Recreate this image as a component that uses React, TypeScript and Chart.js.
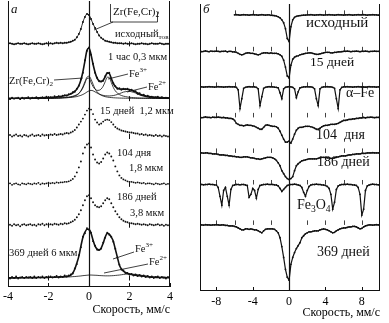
import { useEffect, useRef } from "react";
import { Chart, registerables } from "chart.js";
Chart.register(...registerables);

const FONT = "'Liberation Serif', 'Times New Roman', serif";
const INK = "#111";

// ---------- Panel а : velocity grid -4 … 4 mm/s, step 0.1 ----------
const leftStart = -4;
const leftStep = 0.1;
const leftTickValues = [-4, -2, 0, 2, 4];
const leftSpectrumTicks = [-2, 2];
const leftBaselines = [244, 189, 151, 103, 62, 9];

// groups: -4.0..-3.1 | -3.0..-2.1 | -2.0..-1.1 | -1.0..-0.1 | 0 | 0.1..1.0 | 1.1..2.0 | 2.1..3.0 | 3.1..4.0
const leftInitial = [
  0, 0.5, 0, -0.5, 0, 0.5, 0, 0, 0.5, 0,
  -0.5, 0, 0.5, 0, 0, 0.5, 0, -0.5, 0, 0.5,
  0, 0.5, 0, 0.5, 1, 0.5, 1, 0.5, 1, 1,
  1.5, 2, 3, 4, 6.5, 10, 15, 22, 27, 30,
  29,
  25, 20, 16, 12, 8.5, 6, 4.5, 3.2, 2.5, 2,
  1.5, 1, 1, 0.5, 0.5, 0.5, 0, 0.5, 0, 0,
  0.5, 0, -0.5, 0, 0, 0.5, 0, 0, -0.5, 0,
  0.5, 0, 0, 0, 0.5, 0, -0.5, 0, 0, 0,
];
const leftHourExp = [
  0.5, -0.5, 1, 0, 0.5, 1, -0.5, 1, 0, 0.5,
  1.5, 0, 1, 0.5, 1.5, 0, 1, 1.5, 0.5, 2,
  1, 1.5, 1, 2.5, 1.5, 2.5, 2, 3, 3.5, 3,
  4.5, 5, 6.5, 7, 10, 13, 19.5, 26, 38.5, 48,
  51.5,
  44, 35, 26, 21, 17.5, 17.5, 18, 22.5, 25.5, 26,
  20, 15.5, 12.5, 10, 10.5, 9, 10, 9.5, 10, 8.5,
  9, 7.5, 7.5, 5, 5.5, 3.5, 4, 2.5, 3, 1.5,
  2, 1, 1.5, 2, 0.5, 1.5, 0.5, 1, 0.5, 1,
];
const leftHourFit = [
  0.35, 0.35, 0.37, 0.39, 0.41, 0.43, 0.44, 0.5, 0.53, 0.56,
  0.57, 0.6, 0.64, 0.73, 0.77, 0.81, 0.85, 0.95, 1, 1.1,
  1.1, 1.2, 1.4, 1.5, 1.7, 2, 2.2, 2.6, 3, 3.4,
  3.9, 4.8, 5.9, 7.5, 9.6, 13.2, 18.8, 27, 37.9, 48.5,
  50.9,
  44.2, 34.5, 26.3, 20.7, 17.8, 17, 18.4, 21.9, 25.9, 25.3,
  20.3, 15.3, 12.2, 10.5, 9.7, 9.6, 9.6, 9.6, 9.4, 9.1,
  8.5, 7.8, 6.8, 5.7, 4.7, 3.9, 3.3, 2.7, 2.3, 2,
  1.7, 1.5, 1.35, 1.2, 1.1, 1, 0.92, 0.84, 0.77, 0.7,
];
const leftHourZr = [
  0.1, 0.1, 0.1, 0.1, 0.1, 0.1, 0.1, 0.15, 0.15, 0.15,
  0.15, 0.15, 0.15, 0.2, 0.2, 0.2, 0.2, 0.25, 0.25, 0.3,
  0.3, 0.35, 0.4, 0.45, 0.5, 0.6, 0.65, 0.75, 0.9, 1,
  1.2, 1.5, 2, 2.6, 3.6, 5.2, 8, 12, 17, 21.5,
  22.5,
  19.5, 14.5, 10, 6.8, 4.8, 3.5, 2.6, 2, 1.6, 1.3,
  1.1, 0.9, 0.8, 0.7, 0.6, 0.55, 0.5, 0.45, 0.42, 0.4,
  0.37, 0.35, 0.33, 0.3, 0.3, 0.28, 0.26, 0.25, 0.23, 0.2,
  0.2, 0.2, 0.18, 0.17, 0.16, 0.15, 0.14, 0.13, 0.12, 0.12,
];
const leftHourFe3 = [
  0.15, 0.15, 0.16, 0.17, 0.18, 0.19, 0.2, 0.21, 0.22, 0.24,
  0.25, 0.27, 0.29, 0.31, 0.33, 0.35, 0.37, 0.4, 0.43, 0.45,
  0.47, 0.5, 0.55, 0.62, 0.7, 0.8, 0.9, 1.1, 1.2, 1.4,
  1.6, 2, 2.4, 3.1, 3.9, 5.3, 7.5, 10.8, 15.6, 20.3,
  20.6,
  16.4, 12.1, 9.5, 8.3, 8.4, 9.7, 12.5, 17, 21.5, 21.3,
  16.3, 11.3, 7.8, 5.6, 4.1, 3.2, 2.5, 2.1, 1.7, 1.4,
  1.2, 1, 0.9, 0.8, 0.7, 0.65, 0.6, 0.55, 0.5, 0.45,
  0.42, 0.4, 0.37, 0.34, 0.32, 0.3, 0.28, 0.26, 0.25, 0.23,
];
const leftHourFe2 = [
  0.1, 0.1, 0.11, 0.12, 0.13, 0.14, 0.14, 0.15, 0.16, 0.17,
  0.17, 0.19, 0.2, 0.22, 0.24, 0.26, 0.28, 0.3, 0.32, 0.34,
  0.35, 0.38, 0.42, 0.46, 0.51, 0.56, 0.64, 0.75, 0.86, 0.96,
  1.06, 1.25, 1.46, 1.75, 2.1, 2.7, 3.3, 4.2, 5.3, 6.7,
  7.8,
  8.3, 7.9, 6.8, 5.6, 4.6, 3.8, 3.3, 2.9, 2.8, 2.7,
  2.9, 3.1, 3.6, 4.2, 5, 5.8, 6.6, 7, 7.3, 7.3,
  6.9, 6.4, 5.6, 4.6, 3.7, 3, 2.4, 1.9, 1.55, 1.3,
  1.1, 0.9, 0.8, 0.7, 0.6, 0.55, 0.5, 0.45, 0.4, 0.35,
];
const leftDay15 = [
  0.5, 1.5, 0, 1, 2, 0.5, 1, 0, 1.5, 1,
  0, 1, 2, 0.5, 1, 1.5, 0.5, 2, 1, 1.5,
  1, 2, 1.5, 2.5, 1.5, 2, 2.5, 2, 3, 3.5,
  3, 4, 5, 6.5, 9, 12, 15, 18, 22, 26,
  28,
  27, 22.5, 17, 14, 12, 13, 15, 16.5, 17, 16.5,
  14.5, 12, 9.5, 8, 7, 6, 5.5, 5, 4.5, 4,
  4, 3.5, 3, 3, 2, 2.5, 1.5, 2, 1, 1.5,
  1, 0.5, 1.5, 0.5, 1, 0, 1, 0.5, 0, 0.5,
];
const leftDay104 = [
  0, 1, -0.5, 0.5, 1, 0, -0.5, 1, 0.5, 0,
  1, 0.5, 0, 1, 0.5, 1.5, 0, 1, 0.5, 1,
  1.5, 1, 1.5, 1, 2, 1.5, 2, 2, 2.5, 2.5,
  3, 4, 5.5, 8, 12, 17, 23, 31, 37, 40,
  41,
  37, 30, 25, 22, 21, 22.5, 26, 30, 32, 31,
  28, 24, 18, 13, 9, 6.5, 5, 4, 3, 2.5,
  2.5, 2, 1.5, 2, 1.5, 1, 1.5, 0.5, 1, 1,
  0.5, 0, 1, 0.5, 0, 0.5, 1, 0, 0.5, 0,
];
const leftDay186 = [
  0, 0.5, -0.5, 1, 0, 0.5, -1, 0.5, 1, 0,
  0.5, 1, 0, 0.5, -0.5, 1, 0.5, 1.5, 0, 1,
  0.5, 1, 0.5, 1.5, 1, 0.5, 1.5, 1, 2, 1.5,
  2, 3, 4, 5.5, 8, 11, 15, 20, 25, 29,
  30,
  27, 23, 20, 18.5, 18, 19, 22, 25, 27, 26,
  22, 18, 14, 11, 8, 6, 4.5, 3.5, 3, 2,
  2, 1.5, 1, 1.5, 1, 0.5, 1, 0.5, 0, 1,
  0.5, 0, 0.5, 1, 0, 0.5, -0.5, 0.5, 0, 0.5,
];
const leftDay369Exp = [
  0.5, -0.5, 1, 0, 1.5, -0.5, 0.5, 1, 0, 1,
  0.5, 1, 0, 1.5, 0, 1, 0.5, 1.5, 0, 1,
  0.5, 1.5, 0.5, 1, 2, 0.5, 1.5, 1, 2.5, 1.5,
  2.5, 3.5, 4.5, 9.5, 14, 23, 31, 41.5, 45, 50,
  48.5,
  45.5, 37, 32.5, 28.5, 28.5, 29.5, 35.5, 40.5, 45.5, 43.5,
  41.5, 36.5, 29.5, 20.5, 13.5, 8.5, 7.5, 5, 5, 3.5,
  4, 2.5, 3.5, 2, 3, 1.5, 2.5, 1, 2, 0.5,
  1.5, 0, 1, 1.5, 0, 1, 0.5, -0.5, 1, 0,
];
const leftDay369Fit = [
  0.2, 0.2, 0.2, 0.2, 0.2, 0.3, 0.3, 0.3, 0.3, 0.3,
  0.4, 0.4, 0.4, 0.4, 0.5, 0.5, 0.5, 0.6, 0.6, 0.7,
  0.7, 0.8, 0.8, 0.9, 1, 1.1, 1.2, 1.3, 1.5, 1.7,
  2, 3, 5, 9, 15, 22, 32, 41, 46, 49,
  49,
  45, 38, 32, 29, 28, 30, 35, 41, 45, 44,
  41, 37, 29, 21, 13, 9, 7, 5.5, 4.5, 4,
  3.5, 3, 2.8, 2.5, 2.3, 2, 1.8, 1.5, 1.3, 1,
  0.9, 0.8, 0.7, 0.6, 0.5, 0.5, 0.4, 0.4, 0.3, 0.3,
];
const leftDay369Fe2 = [
  0.2, 0.2, 0.2, 0.2, 0.2, 0.2, 0.2, 0.2, 0.3, 0.3,
  0.3, 0.3, 0.3, 0.3, 0.4, 0.4, 0.4, 0.4, 0.5, 0.5,
  0.5, 0.6, 0.6, 0.7, 0.7, 0.8, 0.8, 0.9, 0.9, 1,
  1.1, 1.2, 1.4, 1.5, 1.7, 1.9, 2.1, 2.4, 2.6, 2.8,
  3,
  3, 2.9, 2.8, 2.7, 2.5, 2.4, 2.3, 2.2, 2.2, 2.2,
  2.3, 2.4, 2.6, 2.8, 3, 3.3, 3.6, 3.8, 4, 4.1,
  4, 3.8, 3.6, 3.3, 3, 2.7, 2.4, 2.1, 1.8, 1.5,
  1.3, 1.2, 1, 0.9, 0.8, 0.7, 0.6, 0.6, 0.5, 0.5,
];

// ---------- Panel б : velocity grid -10 … 10 mm/s, step 0.2 ----------
const rightStart = -10;
const rightStep = 0.2;
const rightTickValues = [-8, -4, 0, 4, 8];
const rightSpectrumTicks = [-8, -6, -4, -2, 2, 4, 6, 8];
const rightBaselines = [280, 243, 207, 176, 140, 108, 67];

// groups: -10..-8.2 | -8..-6.2 | -6..-4.2 | -4..-2.2 | -2..-0.2 | 0 | 0.2..2 | 2.2..4 | 4.2..6 | 6.2..8 | 8.2..10
const N = null;
const rightInitial = [
  N, N, N, N, N, N, N, N, N, N,
  N, N, N, N, N, N, N, N, N, N,
  0, 0.3, 0, -0.3, 0, 0.3, 0, 0, -0.3, 0,
  0.3, 0, 0, -0.3, 0, 0.3, 0, -0.3, 0, 0,
  -0.5, -0.6, -0.8, -1.2, -2, -3, -5, -8, -14, -24,
  -27,
  -12, -5, -2.5, -1.5, -1, -0.7, -0.5, -0.3, -0.3, 0,
  0, 0.3, 0, -0.3, 0, 0, 0.3, 0, -0.3, 0,
  0, 0.3, 0, 0, -0.3, 0, 0.3, 0, 0, -0.3,
  0, 0, 0.3, 0, -0.3, 0, 0, 0.3, 0, 0,
  0.3, 0, -0.3, 0, 0, 0.3, 0, 0, -0.3, 0,
];
const rightDay15 = [
  0, 0.3, -0.3, 0, 0.5, 0, -0.3, 0.3, 0, 0,
  0.3, 0, -0.3, 0, 0, 0.3, -0.5, 0, 0, -0.5,
  -0.5, -1, -2, -3, -3.5, -3, -2, -1.5, -1.5, -2,
  -2, -2.5, -3, -3.5, -3, -2, -1.5, -1.5, -1.5, -2,
  -1.5, -2, -2, -2, -2.5, -3.5, -5, -9, -16, -25,
  -27,
  -14, -8, -6, -5, -4.5, -3.5, -3, -2.5, -2, -1.8,
  -1.5, -1.5, -2, -2.5, -3, -3, -2.5, -2, -1.5, -1,
  -1, -1, -1.5, -1.5, -1, -1, -0.5, -0.5, -0.3, 0,
  0, 0.3, 0, -0.3, 0, 0, 0.3, 0, -0.3, 0,
  0, 0.3, 0, -0.3, 0, 0, 0.3, 0, 0, 0,
];
const rightAlphaFe = [
  0, 0.3, 0, -0.3, 0, 0, 0.3, 0, 0, -0.3,
  0, 0.3, 0, 0, -0.3, 0, 0, 0.3, 0, 0,
  0, -0.5, -3, -22, -12, -1.5, -0.5, 0, 0.3, 0,
  0, 0, -0.5, -2, -19, -10, -1.5, -0.5, 0, 0.3,
  0, 0, -0.3, -0.5, -1, -6, -12, -2, -0.5, 0,
  0.3,
  0, -0.5, -2, -11, -5, -1, -0.5, 0, 0, 0.3,
  0, 0, -0.5, -2, -12, -19, -2, -0.5, 0, 0,
  0.3, 0, 0, -0.5, -1.5, -12, -22, -3, -0.5, 0,
  0, 0.3, 0, 0, -0.3, 0, 0, 0.3, 0, 0,
  0, -0.3, 0, 0.3, 0, 0, 0, -0.3, 0, 0,
];
const rightDay104 = [
  0, 0.3, -0.3, 0, 0.5, 0, 0, -0.3, 0.3, 0,
  0, 0.3, 0, -0.3, 0, -0.5, -0.5, -1, -1, -1.5,
  -3, -6, -7, -8, -8, -8.5, -8, -7.5, -8, -8,
  -8.5, -9, -10, -11, -12, -12, -10, -8, -7.5, -8,
  -8.5, -9, -9, -9.5, -11, -14, -18, -22, -25, -25,
  -24,
  -26, -22, -17, -13, -11, -10, -10, -9.5, -9, -9,
  -9, -9.5, -10, -11, -12, -12, -11, -9.5, -8.5, -8,
  -8, -7.5, -7, -7, -7, -6.5, -6, -5, -4, -3,
  -3, -2.5, -2, -2, -1.5, -1.5, -1, -1, -0.5, -0.5,
  0, -0.5, 0, 0, 0.3, 0, -0.3, 0, 0, 0,
];
const rightDay186 = [
  0, 0.3, 0, -0.3, 0, 0, -0.5, -0.5, -1, -1,
  -1, -1.5, -2, -2, -2, -2.5, -2.5, -3, -3, -3.5,
  -3.5, -4, -4, -4.5, -4.5, -4, -4, -4, -4.5, -5,
  -5, -5.5, -6, -6, -6.5, -6, -5.5, -5, -4.5, -4.5,
  -4.5, -5, -6, -7.5, -10, -13, -18, -21, -24, -26,
  -27,
  -26, -24, -18, -13, -11, -9.5, -8, -7.5, -7, -6.5,
  -6, -6, -6, -6, -6, -5.5, -5, -4.5, -4.5, -4.5,
  -5, -5, -5.5, -5.5, -5, -4.5, -4, -3.5, -3, -3,
  -3, -2.5, -2, -2, -1.5, -1.5, -1, -1, -1, -0.5,
  -0.5, -0.5, 0, 0, 0, 0.3, 0, 0, 0, 0,
];
const rightFe3O4 = [
  0, 0.3, 0, -0.3, 0, 0, 0.3, 0, 0, -0.3,
  -0.5, -3, -12, -21, -6, -3, -12, -21, -5, -1,
  -0.5, 0, 0, -0.3, 0, 0, -0.5, -1, -13, -10,
  -4, -6, -14, -5, -1, -0.5, 0, 0, 0.3, 0,
  0, 0, -0.3, -0.5, -1.5, -4, -7, -5, -3, -1,
  -0.5,
  0, 0, 0.3, 0, -0.5, -1, -3, -8, -12, -6,
  -2, -0.5, 0, 0, 0.3, 0, 0, -0.3, -0.5, -1,
  -2, -4, -10, -25, -18, -5, -1.5, -0.5, 0, 0,
  0, 0.3, 0, 0, -0.3, -0.5, -1, -3, -10, -31,
  -25, -6, -1.5, -0.5, 0, 0.3, 0, 0, -0.3, 0,
];
const rightDay369 = [
  0, 0.3, 0, -0.3, 0.3, 0, 0, -0.3, 0, 0,
  0.3, 0, -0.3, 0, 0, -0.5, -0.5, -1, -1, -1,
  -1.5, -2, -3, -4, -5, -5, -4, -4, -4.5, -4,
  -4.5, -5, -5, -6, -7, -8, -6, -4.5, -4, -4,
  -4, -4, -4.5, -6, -8, -13, -22, -33, -45, -53,
  -56,
  -40, -33, -28, -24, -21, -18, -13, -11, -9, -8,
  -7, -7, -6.5, -6, -6, -6, -5, -4.5, -4, -4.5,
  -5, -6, -7, -8, -7.5, -6, -5, -4, -3.5, -3,
  -3, -2.5, -2, -2, -1.5, -1.5, -2, -3, -4, -3.5,
  -2, -1, -0.5, 0, 0, -0.3, 0, 0.3, 0, 0,
];

// ---------- helpers ----------
type Pt = { x: number; y: number };
function series(values: (number | null)[], start: number, step: number, base: number): Pt[] {
  const pts: Pt[] = [];
  values.forEach((v, i) => {
    if (v !== null) pts.push({ x: Math.round((start + i * step) * 100) / 100, y: base + v });
  });
  return pts;
}
const dots = (data: Pt[], r = 0.95) => ({
  data, showLine: false, pointRadius: r, pointHoverRadius: 0,
  pointBackgroundColor: INK, pointBorderWidth: 0, borderColor: INK,
});
const curve = (data: Pt[], w: number) => ({
  data, showLine: true, borderColor: INK, borderWidth: w, pointRadius: 0,
  cubicInterpolationMode: "monotone" as const, fill: false,
});
const trace = (data: Pt[]) => ({
  data, showLine: true, borderColor: INK, borderWidth: 1.2, pointRadius: 0.9,
  pointBackgroundColor: INK, pointBorderWidth: 0, fill: false,
});

type Part = [string, "n" | "sup" | "sub"];
function rich(ctx: CanvasRenderingContext2D, parts: Part[], x: number, y: number, size: number, italic = false) {
  let cx = x;
  ctx.textBaseline = "middle";
  ctx.textAlign = "left";
  ctx.fillStyle = INK;
  for (const [t, k] of parts) {
    const s = k === "n" ? size : size * 0.68;
    ctx.font = `${italic ? "italic " : ""}${s}px ${FONT}`;
    const dy = k === "sup" ? -size * 0.38 : k === "sub" ? size * 0.32 : 0;
    ctx.fillText(t, cx, y + dy);
    cx += ctx.measureText(t).width;
  }
}
function seg(ctx: CanvasRenderingContext2D, x1: number, y1: number, x2: number, y2: number, w = 1) {
  ctx.lineWidth = w;
  ctx.strokeStyle = INK;
  ctx.beginPath();
  ctx.moveTo(x1, y1);
  ctx.lineTo(x2, y2);
  ctx.stroke();
}
function frame(chart: any, tickValues: number[]) {
  const ctx = chart.ctx as CanvasRenderingContext2D;
  const a = chart.chartArea;
  const xs = chart.scales.x;
  seg(ctx, a.left + 0.5, a.top, a.left + 0.5, a.bottom);
  seg(ctx, a.right - 0.5, a.top, a.right - 0.5, a.bottom);
  seg(ctx, a.left, a.bottom - 0.5, a.right, a.bottom - 0.5);
  const x0 = Math.round(xs.getPixelForValue(0)) + 0.5;
  seg(ctx, x0, a.top, x0, a.bottom, 1.2);
  tickValues.forEach((v) => {
    const px = Math.round(xs.getPixelForValue(v)) + 0.5;
    seg(ctx, px, a.bottom, px, a.bottom - 4);
  });
}

function leftDecor(chart: any) {
  const ctx = chart.ctx as CanvasRenderingContext2D;
  const xs = chart.scales.x, ys = chart.scales.y;
  ctx.save();
  frame(chart, leftTickValues);
  leftBaselines.forEach((b) => {
    leftSpectrumTicks.forEach((v) => {
      const px = Math.round(xs.getPixelForValue(v)) + 0.5;
      const py = ys.getPixelForValue(b);
      seg(ctx, px, py - 2.5, px, py + 2.5);
    });
  });
  rich(ctx, [["а", "n"]], 11, 10, 13, true);
  // Zr(Fe,Cr)2 bracket on top spectrum
  seg(ctx, 110.5, 4, 110.5, 22, 0.8);
  seg(ctx, 110.5, 22, 157.5, 22, 0.8);
  seg(ctx, 157.5, 12, 157.5, 22, 0.8);
  seg(ctx, 113, 22, 94, 30, 0.8);
  rich(ctx, [["Zr(Fe,Cr)", "n"], ["2", "sub"]], 113, 12, 11);
  rich(ctx, [["исходный", "n"], ["тов", "sub"]], 115, 34, 10.5);
  rich(ctx, [["1 час 0,3 мкм", "n"]], 108, 57, 10.5);
  rich(ctx, [["Zr(Fe,Cr)", "n"], ["2", "sub"]], 9, 81, 10.5);
  seg(ctx, 54, 80, 83, 78, 0.8);
  rich(ctx, [["Fe", "n"], ["3+", "sup"]], 129, 74, 10.5);
  seg(ctx, 128, 74, 108, 79, 0.8);
  rich(ctx, [["Fe", "n"], ["2+", "sup"]], 148, 87, 10.5);
  seg(ctx, 147, 87, 127, 92, 0.8);
  rich(ctx, [["15 дней  1,2 мкм", "n"]], 100, 111, 10.5);
  rich(ctx, [["104 дня", "n"]], 117, 153, 10.5);
  rich(ctx, [["1,8 мкм", "n"]], 129, 168, 10.5);
  rich(ctx, [["186 дней", "n"]], 117, 197, 10.5);
  rich(ctx, [["3,8 мкм", "n"]], 130, 213, 10.5);
  rich(ctx, [["369 дней 6 мкм", "n"]], 9, 253, 10.5);
  rich(ctx, [["Fe", "n"], ["3+", "sup"]], 135, 249, 10.5);
  seg(ctx, 134, 252, 113, 259, 0.8);
  rich(ctx, [["Fe", "n"], ["2+", "sup"]], 149, 262, 10.5);
  seg(ctx, 148, 264, 104, 273, 0.8);
  ctx.restore();
}

function rightDecor(chart: any) {
  const ctx = chart.ctx as CanvasRenderingContext2D;
  const xs = chart.scales.x, ys = chart.scales.y;
  ctx.save();
  frame(chart, rightTickValues);
  rightBaselines.forEach((b, k) => {
    rightSpectrumTicks.forEach((v) => {
      if (k === 0 && v < -6) return;
      const px = Math.round(xs.getPixelForValue(v)) + 0.5;
      const py = ys.getPixelForValue(b);
      seg(ctx, px, py, px, py - 4.5, 0.8);
    });
  });
  rich(ctx, [["б", "n"]], 18, 10, 13, true);
  rich(ctx, [["исходный", "n"]], 121, 23, 15);
  rich(ctx, [["15 дней", "n"]], 125, 62, 13.5);
  rich(ctx, [["α–Fe", "n"]], 161, 93, 14);
  rich(ctx, [["104  дня", "n"]], 131, 135, 14);
  rich(ctx, [["186 дней", "n"]], 132, 162, 14);
  rich(ctx, [["Fe", "n"], ["3", "sub"], ["O", "n"], ["4", "sub"]], 112, 205, 14);
  rich(ctx, [["369 дней", "n"]], 132, 252, 14);
  ctx.restore();
}

function options(xMin: number, xMax: number, yMax: number, tickValues: number[], pad: any, axisH: number, tickPad: number, titlePad: number) {
  return {
    responsive: false,
    animation: false as const,
    devicePixelRatio: 1,
    events: [] as any[],
    layout: { padding: pad },
    plugins: { legend: { display: false }, tooltip: { enabled: false } },
    scales: {
      x: {
        type: "linear" as const,
        min: xMin,
        max: xMax,
        afterBuildTicks: (s: any) => { s.ticks = tickValues.map((v) => ({ value: v })); },
        afterFit: (s: any) => { s.height = axisH; },
        grid: { display: false, drawTicks: false },
        border: { display: false },
        ticks: {
          color: "#000", font: { family: FONT, size: 12 }, padding: tickPad,
          maxRotation: 0, autoSkip: false, callback: (v: any) => String(v),
        },
        title: {
          display: true, text: "Скорость, мм/с", align: "end" as const, color: "#000",
          font: { family: FONT, size: 12 }, padding: { top: 0, bottom: titlePad },
        },
      },
      y: { type: "linear" as const, display: false, min: 0, max: yMax },
    },
  };
}

function leftConfig(): any {
  const [b1, b2, b3, b4, b5, b6] = leftBaselines;
  const s = (v: number[], b: number) => series(v, leftStart, leftStep, b);
  return {
    type: "scatter",
    data: {
      datasets: [
        curve(s(leftInitial, b1), 0.9),
        dots(s(leftInitial, b1), 1),
        curve(s(leftHourFit, b2), 1.6),
        curve(s(leftHourZr, b2), 0.8),
        curve(s(leftHourFe3, b2), 0.8),
        curve(s(leftHourFe2, b2), 0.8),
        dots(s(leftHourExp, b2)),
        dots(s(leftDay15, b3)),
        dots(s(leftDay104, b4)),
        dots(s(leftDay186, b5)),
        curve(s(leftDay369Fit, b6), 1.6),
        curve(s(leftDay369Fe2, b6), 0.8),
        dots(s(leftDay369Exp, b6)),
      ],
    },
    options: options(-4, 4, 287, leftTickValues, { left: 5, right: 15, top: 0, bottom: 0 }, 36, 3, 6),
    plugins: [{ id: "leftDecor", afterDatasetsDraw: leftDecor }],
  };
}

function rightConfig(): any {
  const rows = [rightInitial, rightDay15, rightAlphaFe, rightDay104, rightDay186, rightFe3O4, rightDay369];
  return {
    type: "scatter",
    data: {
      datasets: rows.map((r, k) => trace(series(r, rightStart, rightStep, rightBaselines[k]))),
    },
    options: options(-9.8, 10, 291, rightTickValues, { left: 15, right: 9, top: 0, bottom: 0 }, 32, 4, 3),
    plugins: [{ id: "rightDecor", afterDatasetsDraw: rightDecor }],
  };
}

function Panel({ left, width, make }: { left: number; width: number; make: () => any }) {
  const ref = useRef<HTMLCanvasElement | null>(null);
  useEffect(() => {
    if (!ref.current) return;
    const chart = new Chart(ref.current, make());
    return () => chart.destroy();
  }, []);
  return (
    <canvas
      ref={ref}
      width={width}
      height={323}
      style={{ position: "absolute", left, top: 0, width, height: 323, display: "block" }}
    />
  );
}

export default function App() {
  return (
    <div style={{ position: "fixed", left: 0, top: 0, width: 389, height: 323, background: "#fff", overflow: "hidden" }}>
      <Panel left={0} width={185} make={leftConfig} />
      <Panel left={185} width={204} make={rightConfig} />
    </div>
  );
}
